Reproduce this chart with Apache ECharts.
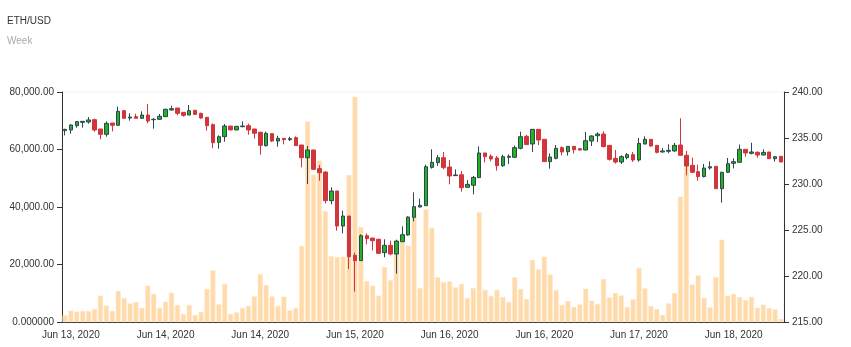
<!DOCTYPE html>
<html>
<head>
<meta charset="utf-8">
<script src="https://cdn.jsdelivr.net/npm/echarts@6/dist/echarts.min.js"></script>
<style>
html,body{margin:0;padding:0;background:#fff;}
#main{width:851px;height:347px;}
</style>
</head>
<body>
<div id="main"></div>
<script>
// Tick labels shown on the x axis (every 16th category, starting at index 1)
const tickLabels = ['Jun 13, 2020','Jun 14, 2020','Jun 14, 2020','Jun 15, 2020','Jun 16, 2020','Jun 16, 2020','Jun 17, 2020','Jun 18, 2020'];

// OHLC rows: [open, close, low, high]
const ohlc = [
[235.80,235.94,235.29,236.00],[235.87,236.41,235.47,236.49],[236.34,236.78,236.12,236.85],[236.70,236.81,236.12,236.85],
[236.74,236.96,236.56,237.28],[236.99,235.87,235.69,237.10],[235.98,235.40,234.86,235.98],[235.40,236.59,235.14,236.81],
[236.63,236.38,235.72,236.63],[236.38,237.90,236.34,238.41],[237.97,237.14,237.10,238.04],[237.17,237.28,236.88,237.68],
[237.32,237.14,237.14,237.64],[237.14,237.50,237.07,237.90],[237.50,236.85,236.59,238.70],[236.99,237.03,236.01,237.17],
[237.03,237.36,236.96,237.61],[237.32,238.12,237.32,238.19],[238.04,238.19,237.97,238.51],[238.26,237.68,237.46,238.26],
[237.79,237.46,237.32,237.79],[237.50,237.97,237.50,238.59],[238.01,237.57,237.54,238.04],[237.68,237.17,237.10,237.75],
[237.25,236.34,235.80,237.25],[236.45,234.49,233.88,236.59],[234.53,235.14,233.84,235.29],[235.14,236.30,234.60,236.52],
[236.30,235.87,235.87,236.30],[235.87,236.27,235.87,236.30],[236.23,236.30,236.16,236.81],[236.34,235.87,235.36,236.56],
[235.98,235.51,234.93,235.98],[235.62,234.20,233.19,235.69],[234.17,235.51,234.06,235.69],[235.47,234.67,234.57,235.54],
[234.67,234.96,234.06,235.25],[234.96,234.82,234.31,234.96],[234.82,234.93,234.67,235.14],[235.04,234.17,234.17,235.18],
[234.24,232.86,231.81,234.24],[232.86,233.70,230.00,234.13],[233.70,231.59,231.56,233.70],[231.67,231.23,230.36,232.07],
[231.30,228.19,227.90,231.38],[228.19,229.24,227.79,229.64],[229.24,225.43,224.93,229.24],[225.43,226.52,224.64,227.10],
[226.52,222.10,220.76,226.52],[222.25,221.67,218.30,222.54],[221.67,224.38,221.67,224.53],[224.38,224.06,223.44,224.64],
[224.13,223.84,222.79,224.13],[223.99,222.46,222.39,224.06],[222.54,223.33,222.03,223.99],[223.33,222.39,222.25,223.84],
[222.39,223.80,220.25,223.95],[223.73,224.49,223.70,225.40],[224.46,226.41,224.38,226.49],[226.38,227.54,225.94,229.09],
[227.50,227.68,227.46,228.41],[227.64,231.88,227.64,232.10],[231.81,232.36,231.67,233.77],[232.32,232.86,231.96,233.15],
[232.86,231.78,231.59,233.48],[231.85,230.87,229.96,232.61],[230.91,230.98,230.87,231.59],[231.01,229.60,229.17,231.41],
[229.64,229.96,229.64,230.43],[229.86,230.72,228.88,230.87],[230.69,233.37,230.69,234.09],[233.37,232.97,232.36,233.37],
[233.01,232.72,232.46,233.22],[232.83,231.99,231.45,233.04],[231.99,232.97,231.85,233.19],[232.90,233.01,232.17,233.22],
[232.90,233.95,232.83,234.17],[233.88,235.14,233.77,235.69],[235.18,234.28,234.28,235.33],[234.35,235.94,233.48,235.94],
[235.94,234.78,234.24,235.94],[234.86,232.43,232.43,234.86],[232.43,232.93,231.67,233.33],[232.79,233.88,232.68,234.24],
[233.95,233.48,233.12,234.09],[233.51,234.09,233.08,234.09],[234.09,233.73,233.30,234.09],[233.84,233.70,233.62,233.88],
[233.70,234.71,233.66,235.65],[234.67,235.22,234.13,235.29],[235.25,235.43,234.57,235.62],[235.43,234.06,233.99,235.72],
[234.20,232.68,232.54,234.20],[232.79,232.39,232.21,233.70],[232.39,232.97,232.17,233.12],[232.86,233.19,232.68,233.37],
[233.19,232.61,232.39,233.48],[232.61,234.42,232.43,235.00],[234.35,234.86,234.31,235.18],[234.86,234.13,234.06,234.86],
[234.20,233.44,233.33,234.20],[233.48,233.59,233.41,233.91],[233.55,233.66,233.33,234.31],[233.59,234.20,233.51,234.46],
[234.24,233.12,233.12,237.14],[233.12,231.96,230.94,233.59],[232.03,231.27,231.20,232.86],[231.34,230.80,230.36,232.10],
[230.80,231.74,230.72,232.17],[231.74,231.88,231.56,232.46],[231.92,229.49,229.49,231.92],[229.49,231.27,227.97,231.34],
[231.27,232.21,231.20,232.83],[232.25,232.43,231.70,232.79],[232.36,233.77,232.36,234.28],[233.77,233.37,232.97,233.77],
[233.33,233.48,233.22,234.49],[233.44,233.15,232.86,233.55],[233.15,233.44,233.12,233.77],[233.48,232.75,232.75,233.48],
[232.75,232.97,232.43,233.04],[233.01,232.39,232.39,233.01]
];

// Volume per candle
const volume = [
2318,3941,3593,3825,3825,4520,9156,5679,3825,10779,8345,6490,6954,4868,12633,9736,4984,7070,10199,5911,
2782,5911,2434,3477,11474,17965,6143,13213,2782,3361,4868,5563,8924,16690,12865,8924,5563,8808,4057,4868,
26425,69772,51228,56211,38595,22948,22600,22716,51112,78348,33031,14256,12633,9156,19123,14603,27932,30018,26541,38015,
11822,39174,32800,15531,13908,14140,12054,13213,8345,11822,38131,11126,9040,11126,8692,6954,15531,11474,7997,21557,
18312,22716,16574,11126,5911,7302,5216,6143,11590,7418,6259,14951,8577,10083,9272,5216,7881,18776,11706,5563,
4520,2434,6490,10083,43578,57834,12981,16226,8345,5100,15647,28627,9156,9736,8692,7649,8692,4984,6027,4868,
4404,1043
];

// Category names: tick labels placed every 16th category starting at 1
const categories = ohlc.map((_, i) => (i % 16 === 1 ? tickLabels[(i - 1) / 16] : ''));

const chart = echarts.init(document.getElementById('main'), null, {renderer: 'canvas'});
const FONT = 'Liberation Sans, Arial, sans-serif';

function fmtVol(v) {
  if (v === 0) return '0.000000';
  return v.toLocaleString('en-US', {minimumFractionDigits: 2, maximumFractionDigits: 2});
}

chart.setOption({
  animation: false,
  backgroundColor: '#fff',
  title: {
    text: 'ETH/USD',
    subtext: 'Week',
    left: 2,
    top: 11,
    itemGap: 10,
    textStyle: {fontSize: 10, fontWeight: 'normal', color: '#333', fontFamily: FONT},
    subtextStyle: {fontSize: 10, color: '#aaa', fontFamily: FONT}
  },
  grid: {
    left: 62, right: 67, top: 92, bottom: 25,
    show: true, borderColor: '#fcefe2', borderWidth: 1, backgroundColor: 'transparent'
  },
  xAxis: {
    type: 'category',
    data: categories,
    boundaryGap: true,
    axisLine: {lineStyle: {color: '#333'}},
    axisTick: {
      alignWithLabel: true,
      interval: (i) => i % 16 === 9,
      lineStyle: {color: '#333'}
    },
    axisLabel: {
      interval: (i) => i % 16 === 1,
      fontSize: 10, color: '#333', fontFamily: FONT, margin: 8
    },
    splitLine: {show: false}
  },
  yAxis: [
    {
      type: 'value', min: 0, max: 80000, interval: 20000, position: 'left',
      axisLine: {show: true, lineStyle: {color: '#333'}},
      axisTick: {show: true, lineStyle: {color: '#333'}},
      axisLabel: {formatter: fmtVol, fontSize: 10, color: '#333', fontFamily: FONT},
      splitLine: {show: false}
    },
    {
      type: 'value', min: 215, max: 240, interval: 5, position: 'right',
      axisLine: {show: true, lineStyle: {color: '#333'}},
      axisTick: {show: true, lineStyle: {color: '#333'}},
      axisLabel: {formatter: (v) => v.toFixed(2), fontSize: 10, color: '#333', fontFamily: FONT},
      splitLine: {show: false}
    }
  ],
  series: [
    {
      name: 'Volume', type: 'bar', yAxisIndex: 0, data: volume,
      barCategoryGap: '16%',
      itemStyle: {color: '#ffdaab', borderColor: '#ffe6c6', borderWidth: 0.5}
    },
    {
      name: 'ETH/USD', type: 'candlestick', yAxisIndex: 1, data: ohlc,
      barWidth: 4,
      itemStyle: {
        color: '#1fb51f', color0: '#d0363b',
        borderColor: '#2f4554', borderColor0: '#d0363b', borderWidth: 1
      }
    }
  ]
});
</script>
</body>
</html>
